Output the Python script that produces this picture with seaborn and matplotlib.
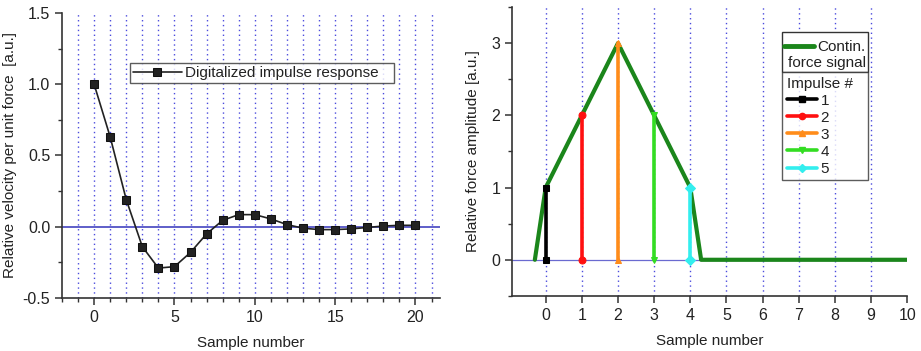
import matplotlib
matplotlib.use("Agg")
import matplotlib.pyplot as plt
from matplotlib.ticker import MultipleLocator
from matplotlib.lines import Line2D
from matplotlib.patches import Rectangle
import seaborn as sns
import pandas as pd

# ---- data ----
samples_left = list(range(21))
impulse_response = [1.0, 0.63, 0.19, -0.14, -0.29, -0.28, -0.18, -0.05, 0.045, 0.085,
                    0.085, 0.055, 0.015, -0.01, -0.02, -0.02, -0.015, -0.005, 0.005, 0.01, 0.01]

signal_x = [-0.3, 0, 1, 2, 3, 4, 4.3, 10]
signal_y = [0, 1, 2, 3, 2, 1, 0, 0]

impulse_pos = [0, 1, 2, 3, 4]
impulse_amp = [1, 2, 3, 2, 1]
impulse_labels = ["1", "2", "3", "4", "5"]
impulse_colors = ["#000000", "#ff1010", "#ff8c1a", "#33dd22", "#33eeee"]
impulse_markers = ["s", "o", "^", "v", "D"]

sns.set_style("ticks")
plt.rcParams["font.family"] = ["Liberation Sans", "DejaVu Sans"]
plt.rcParams["font.size"] = 11
plt.rcParams["axes.unicode_minus"] = False
txt = "#222222"
grid_c = "#4b4bdd"
FS = 11

fig = plt.figure(figsize=(9.21, 3.51), dpi=100)
ax1 = fig.add_axes([0.0673, 0.151, 0.41, 0.812])
ax2 = fig.add_axes([0.556, 0.157, 0.429, 0.823])

def style_axes(ax):
    for s in ["top", "right"]:
        ax.spines[s].set_visible(False)
    for s in ["left", "bottom"]:
        ax.spines[s].set_color("#333333")
        ax.spines[s].set_linewidth(1.2)
    ax.tick_params(which="major", direction="out", length=5, width=1.1, colors="#333333",
                   labelcolor=txt, labelsize=FS + 0.5)
    ax.tick_params(which="minor", direction="out", length=3, width=1.0, colors="#333333")

# ---- left panel ----
df_left = pd.DataFrame({"Sample": samples_left, "Response": impulse_response})
for gx in range(-1, 22):
    ax1.axvline(gx, color=grid_c, linestyle=(0, (1, 2.5)), linewidth=1.0, zorder=0)
ax1.axhline(0, color="#3333bb", linewidth=1.1, zorder=1)
sns.lineplot(data=df_left, x="Sample", y="Response", ax=ax1, color="#222222",
             marker="s", markersize=5.5, markeredgecolor="#111111",
             linewidth=1.2, label="Digitalized impulse response", zorder=3)
ax1.set_xlim(-2, 21.5)
ax1.set_ylim(-0.5, 1.5)
ax1.xaxis.set_major_locator(MultipleLocator(5))
ax1.xaxis.set_minor_locator(MultipleLocator(1))
ax1.yaxis.set_major_locator(MultipleLocator(0.5))
ax1.yaxis.set_minor_locator(MultipleLocator(0.25))
ax1.set_xlabel("Sample number", color=txt, fontsize=FS, labelpad=8)
ax1.set_ylabel("Relative velocity per unit force  [a.u.]", color=txt, fontsize=FS, labelpad=4)
style_axes(ax1)
leg1 = ax1.legend(loc="upper left", bbox_to_anchor=(0.18, 0.77, 0.70, 0.055), mode="expand",
                  frameon=True, fancybox=False, edgecolor="#333333", fontsize=FS,
                  handlelength=3.2, borderpad=0.2, handletextpad=0.2, borderaxespad=0)
leg1.get_frame().set_linewidth(1.0)
for t in leg1.get_texts():
    t.set_color(txt)

# ---- right panel ----
for gx in range(0, 10):
    ax2.axvline(gx, color=grid_c, linestyle=(0, (1, 2.5)), linewidth=1.0, zorder=0)
ax2.axhline(0, color="#6a6ad0", linewidth=0.9, zorder=1)

imp_handles = []
for pos, amp, lab, col, mk in zip(impulse_pos, impulse_amp, impulse_labels,
                                  impulse_colors, impulse_markers):
    d = pd.DataFrame({"x": [pos, pos], "y": [0, amp]})
    sns.lineplot(data=d, x="x", y="y", ax=ax2, color=col, linewidth=2.6,
                 marker=mk, markersize=5, markeredgecolor=col, sort=False,
                 estimator=None, zorder=3)
    imp_handles.append(Line2D([], [], color=col, linewidth=2.6, marker=mk,
                              markersize=4.5, markeredgecolor=col))

df_sig = pd.DataFrame({"x": signal_x, "y": signal_y})
sns.lineplot(data=df_sig, x="x", y="y", ax=ax2, color="#1b861b", linewidth=3.0,
             sort=False, estimator=None, zorder=2)

ax2.set_xlim(-0.93, 10)
ax2.set_ylim(-0.5, 3.5)
ax2.xaxis.set_major_locator(MultipleLocator(1))
ax2.yaxis.set_major_locator(MultipleLocator(1))
ax2.yaxis.set_minor_locator(MultipleLocator(0.5))
ax2.set_xlabel("Sample number", color=txt, fontsize=FS, labelpad=8)
ax2.set_ylabel("Relative force amplitude [a.u.]", color=txt, fontsize=FS, labelpad=8)
style_axes(ax2)

# upper legend box (continuous signal)
box = Rectangle((0.684, 0.775), 0.216, 0.137, transform=ax2.transAxes, facecolor="white",
                edgecolor="#333333", linewidth=1.0, zorder=5, clip_on=False)
ax2.add_patch(box)
sig_handle = Line2D([], [], color="#1b861b", linewidth=3.5)
legA = ax2.legend([sig_handle], ["Contin."], loc="upper left",
                  bbox_to_anchor=(0.688, 0.886), frameon=False, fontsize=FS,
                  handlelength=2.0, borderpad=0, handletextpad=0.2, borderaxespad=0)
legA.set_zorder(6)
for t in legA.get_texts():
    t.set_color(txt)
ax2.add_artist(legA)
ax2.text(0.699, 0.806, "force signal", transform=ax2.transAxes, fontsize=FS, color=txt,
         ha="left", va="center", zorder=7)

legB = ax2.legend(imp_handles, impulse_labels, title="Impulse #", loc="upper left",
                  bbox_to_anchor=(0.684, 0.388, 0.216, 0.387), mode="expand",
                  frameon=True, fancybox=False, edgecolor="#333333", fontsize=FS,
                  title_fontsize=FS, handlelength=2.0, borderpad=0.3, handletextpad=0.2,
                  labelspacing=0.2, borderaxespad=0, alignment="left")
legB.get_frame().set_linewidth(1.0)
legB.get_title().set_color(txt)
for t in legB.get_texts():
    t.set_color(txt)

fig.savefig("out.png", dpi=100)
